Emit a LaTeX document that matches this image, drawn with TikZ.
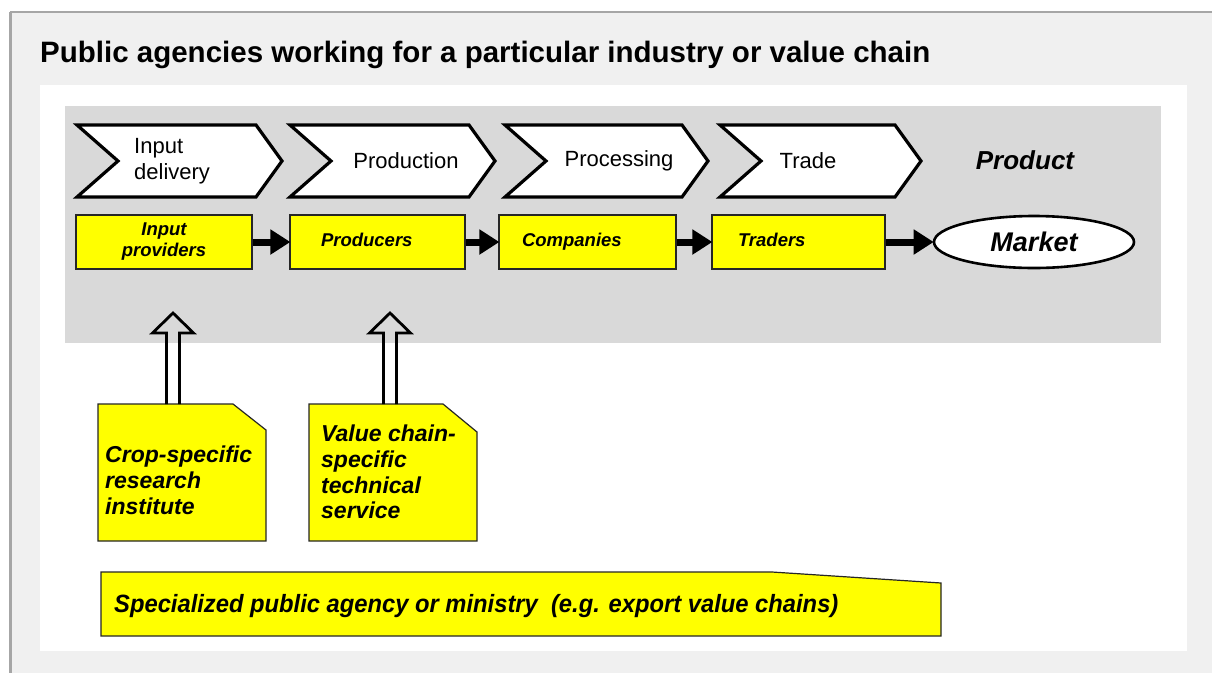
\documentclass[tikz,border=0pt]{standalone}
\usepackage{fontspec}
\setmainfont{Liberation Sans}
\usetikzlibrary{arrows.meta,shapes.geometric,calc}
\definecolor{panel}{HTML}{F0F0F0}
\definecolor{frameline}{HTML}{A6A6A6}
\definecolor{band}{HTML}{D9D9D9}
\definecolor{ylw}{HTML}{FFFF00}
\begin{document}
\begin{tikzpicture}[x=1pt,y=-1pt,
  chev/.style={draw=black,line width=3.2pt,fill=white,line join=miter},
  chevtxt/.style={font=\fontsize{22}{26}\selectfont,inner sep=0pt,align=left},
  ybox/.style={draw=black!85,line width=1.2pt,fill=ylw,minimum height=54pt,
               font=\bfseries\itshape\fontsize{18.5}{21}\selectfont},
  ytxt/.style={text height=13pt,text depth=4pt,inner ysep=0pt,align=left},
  flow/.style={line width=7pt,-{Triangle[length=20pt,width=24pt]},shorten >=-1pt},
  note/.style={draw=black!85,line width=1.2pt,fill=ylw},
  notetxt/.style={font=\bfseries\itshape\fontsize{23}{25.7}\selectfont,inner sep=0pt,align=left},
  hollow/.style={draw=black,line width=2.8pt,line join=miter}
]
\useasboundingbox (0,0) rectangle (1212,673);
% frame and panels
\fill[white] (0,0) rectangle (1212,673);
\fill[panel] (10,12) rectangle (1212,673);
\draw[frameline,line width=1.5pt] (10,12) -- (1212,12);
\draw[frameline,line width=2.5pt] (10.5,12) -- (10.5,673);
\node[anchor=base west,inner sep=0pt,font=\bfseries\fontsize{29.5}{34}\selectfont] (title) at (40,62)
  {Public agencies working for a particular industry or value chain};
\fill[white] (40,85) rectangle (1187,651);
\fill[band] (65,106) rectangle (1161,343);
% chevrons
\draw[chev] (77,125) -- (256,125) -- (282,161) -- (256,197) -- (77,197) -- (118,161) -- cycle;
\draw[chev] (290,125) -- (469,125) -- (495,161) -- (469,197) -- (290,197) -- (331,161) -- cycle;
\draw[chev] (505,125) -- (682,125) -- (708,161) -- (682,197) -- (505,197) -- (546,161) -- cycle;
\draw[chev] (720,125) -- (895,125) -- (921,161) -- (895,197) -- (720,197) -- (761,161) -- cycle;
\node[chevtxt,anchor=west] (c1) at (134,161) {Input\\delivery};
\node[chevtxt] (c2) at (406,161) {Production};
\node[chevtxt] (c3) at (619,161) {Processing};
\node[chevtxt] (c4) at (808,161) {Trade};
\node[inner sep=0pt,font=\bfseries\itshape\fontsize{26}{30}\selectfont] (prod) at (1025,160) {Product};
% actor boxes
\node[ybox,minimum width=176pt,align=center,inner sep=0pt] (b1) at (164,242) {Input\\providers};
\node[ybox,ytxt,inner xsep=31pt,text width=113pt] (b2) at (377.5,242) {Producers};
\node[ybox,ytxt,inner xsep=23pt,text width=131pt] (b3) at (587.5,242) {Companies};
\node[ybox,ytxt,inner xsep=26pt,text width=121pt] (b4) at (798.5,242) {Traders};
\node[ellipse,draw=black,line width=2.6pt,fill=white,minimum width=200pt,minimum height=52pt,inner sep=0pt,
      font=\bfseries\itshape\fontsize{27}{30}\selectfont] (mk) at (1034,242) {Market};
\draw[flow] (b1.east) -- (b2.west);
\draw[flow] (b2.east) -- (b3.west);
\draw[flow] (b3.east) -- (b4.west);
\draw[flow] (b4.east) -- (mk.west);
% notes
\draw[note] (98,404) -- (233,404) -- (266,430) -- (266,541) -- (98,541) -- cycle;
\draw[note] (309,404) -- (443,404) -- (477,432) -- (477,541) -- (309,541) -- cycle;
\node[notetxt,anchor=north west] (n1) at (105,446) {Crop-specific\\research\\institute};
\node[notetxt,anchor=north west] (n2) at (321,425) {Value chain-\\specific\\technical\\service};
% hollow arrows
\coordinate (h1) at (173,404);
\coordinate (h2) at (390,404);
\draw[hollow] (h1) ++(-6.5,0) -- ++(0,-71) -- ++(-14,0) -- ++(20.5,-20) -- ++(20.5,20) -- ++(-14,0) -- ++(0,71);
\draw[hollow] (h2) ++(-6.5,0) -- ++(0,-71) -- ++(-14,0) -- ++(20.5,-20) -- ++(20.5,20) -- ++(-14,0) -- ++(0,71);
% bottom agency box
\draw[note] (101,572) -- (772,572) -- (941,583) -- (941,636) -- (101,636) -- cycle;
\node[anchor=base west,inner sep=0pt,font=\bfseries\itshape\fontsize{25}{30}\selectfont] (ag) at (114,612)
  {\scalebox{0.95}[1]{Specialized public agency or ministry\ \ (e.g. export value chains)}};
\end{tikzpicture}
\end{document}
